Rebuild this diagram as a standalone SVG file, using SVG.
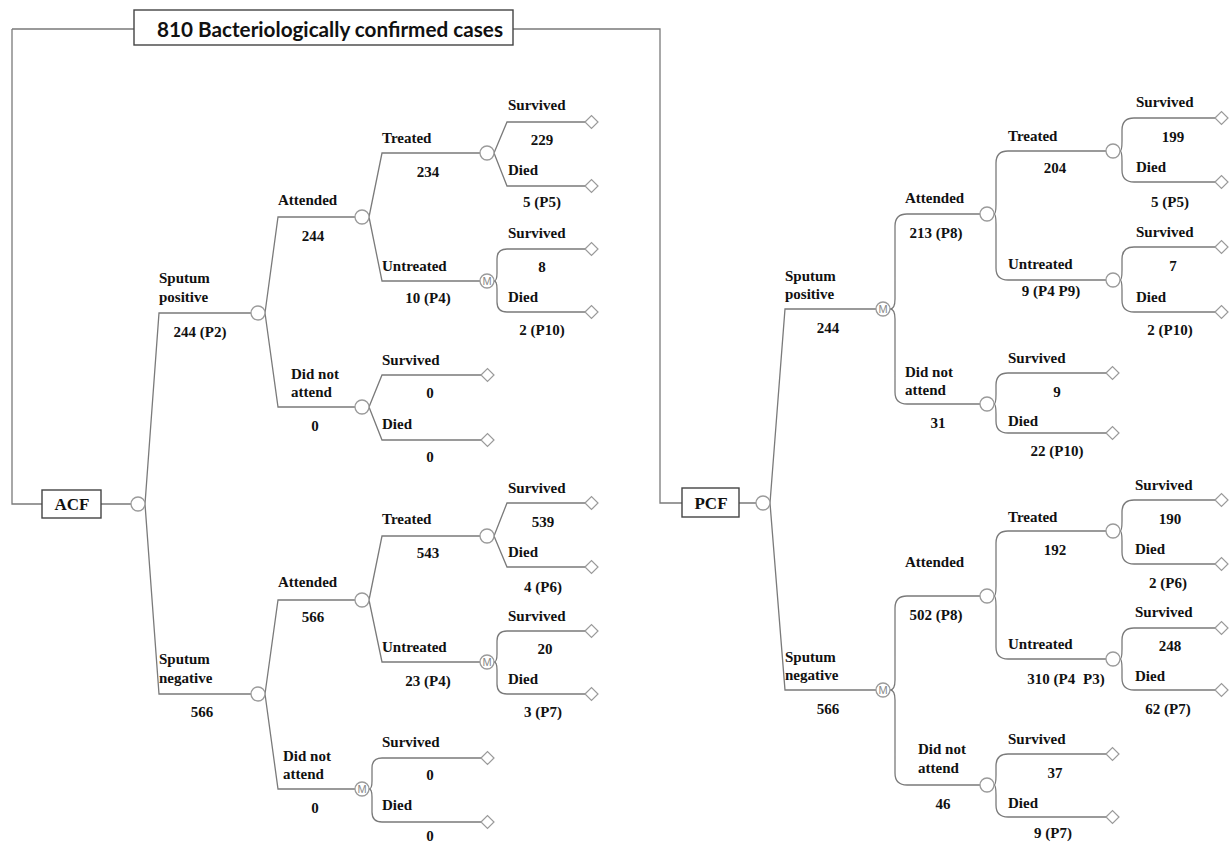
<svg xmlns="http://www.w3.org/2000/svg" xmlns:xlink="http://www.w3.org/1999/xlink" width="1230" height="844" viewBox="0 0 1230 844">
<style>
.ln{fill:none;stroke:#7a7a7a;stroke-width:1.3}
.bx{fill:#fff;stroke:#444;stroke-width:1.4}
.c{fill:#fff;stroke:#9a9a9a;stroke-width:1.3}
.dm{fill:#fff;stroke:#9a9a9a;stroke-width:1.2}
.t{font-family:"Liberation Serif","Times New Roman",serif;font-weight:bold;font-size:15px;fill:#111}
.m{text-anchor:middle}
.mk{font-family:"Liberation Sans",Arial,sans-serif;font-size:11px;fill:#888;text-anchor:middle}
.ttl{font-family:Lato,"Liberation Sans",sans-serif;font-weight:bold;font-size:21px;fill:#111}
.bt{font-family:"Liberation Serif","Times New Roman",serif;font-weight:bold;font-size:17px;fill:#111;text-anchor:middle}
</style>
<defs>
<path id="dmd" class="dm" d="M0,0 L6.5,-6.5 L13,0 L6.5,6.5Z"/>
</defs>
<rect width="1230" height="844" fill="#fff"/>
<g id="connectors">
<path class="ln" d="M12,29 H134 M513,29 H660 V503 H682 M12,29 V504 H42 M101,504 H131 M739,503 H756"/>
<path class="ln" d="M145,504 L159,313 H251 M145,504 L159,694 H251 M265,313 L278,217 H355 M265,313 L278,407 H355 M369,217 L382,153 H480 M369,217 L382,281 H480 M494,153 L507,122 H585 M494,153 L507,186 H585 M494,281 Q497,281 497,273 V259 Q497,249 507,249 H585 M494,281 Q497,281 497,289 V302 Q497,312 507,312 H585 M369,407 L382,375 H481 M369,407 L382,440 H481"/>
<path class="ln" d="M265,694 L278,600 H355 M265,694 L278,789 H355 M369,600 L382,536 H480 M369,600 L382,662 H480 M494,536 L507,503 H585 M494,536 L507,567 H585 M494,662 Q497,662 497,654 V641 Q497,631 507,631 H585 M494,662 Q497,662 497,670 V684 Q497,694 507,694 H585 M369,789 Q372,789 372,781 V768 Q372,758 382,758 H481 M369,789 Q372,789 372,797 V812 Q372,822 382,822 H481"/>
<path class="ln" d="M770,503 L785,309 H876 M770,503 L785,690 H876 M890,309 Q895,309 895,299 V226 Q895,214 907,214 H980 M890,309 Q895,309 895,319 V392 Q895,404 907,404 H980 M994,214 Q996,214 996,204 V163 Q996,151 1008,151 H1106 M994,214 Q996,214 996,224 V268 Q996,280 1008,280 H1106 M1120,151 Q1122,151 1122,141 V130 Q1122,118 1134,118 H1215 M1120,151 Q1122,151 1122,161 V170 Q1122,182 1134,182 H1215 M1120,280 Q1122,280 1122,270 V259 Q1122,247 1134,247 H1215 M1120,280 Q1122,280 1122,290 V300 Q1122,312 1134,312 H1215 M994,404 Q996,404 996,394 V385 Q996,373 1008,373 H1106 M994,404 Q996,404 996,414 V421 Q996,433 1008,433 H1106"/>
<path class="ln" d="M890,690 Q895,690 895,680 V608 Q895,596 907,596 H980 M890,690 Q895,690 895,700 V773 Q895,785 907,785 H980 M994,596 Q996,596 996,586 V543 Q996,531 1008,531 H1106 M994,596 Q996,596 996,606 V647 Q996,659 1008,659 H1106 M1120,531 Q1122,531 1122,521 V512 Q1122,500 1134,500 H1215 M1120,531 Q1122,531 1122,541 V552 Q1122,564 1134,564 H1215 M1120,659 Q1122,659 1122,649 V640 Q1122,628 1134,628 H1215 M1120,659 Q1122,659 1122,669 V678 Q1122,690 1134,690 H1215 M994,785 Q996,785 996,775 V766 Q996,754 1008,754 H1106 M994,785 Q996,785 996,795 V805 Q996,817 1008,817 H1106"/>
</g>
<g id="title"><rect class="bx" x="134" y="10" width="379" height="35"/><text class="ttl" x="157" y="37" textLength="346" lengthAdjust="spacingAndGlyphs">810 Bacteriologically confirmed cases</text></g>
<g id="acf"><rect class="bx" x="42" y="490" width="59" height="28"/><text class="bt" x="72" y="510">ACF</text><circle class="c" cx="138" cy="504" r="7"/></g>
<g id="pcf"><rect class="bx" x="682" y="488" width="57" height="29"/><text class="bt" x="711" y="509">PCF</text><circle class="c" cx="763" cy="503" r="7"/></g>

<g id="acf-sp"><circle class="c" cx="258" cy="313" r="7"/><text class="t" x="159" y="283">Sputum</text><text class="t" x="159" y="302">positive</text><text class="t m" x="200" y="337">244 (P2)</text></g>
<g id="acf-sp-att"><circle class="c" cx="362" cy="217" r="7"/><text class="t" x="278" y="205">Attended</text><text class="t m" x="313" y="241">244</text></g>
<g id="acf-sp-dna"><circle class="c" cx="362" cy="407" r="7"/><text class="t" x="291" y="379">Did not</text><text class="t" x="291" y="397">attend</text><text class="t m" x="315" y="431">0</text></g>
<g id="acf-sp-tr"><circle class="c" cx="487" cy="153" r="7"/><text class="t" x="382" y="143">Treated</text><text class="t m" x="428" y="177">234</text></g>
<g id="acf-sp-ut"><circle class="c" cx="487" cy="281" r="7"/><text class="mk" x="487" y="285">M</text><text class="t" x="382" y="271">Untreated</text><text class="t m" x="428" y="303">10 (P4)</text></g>
<g id="acf-sp-tr-s"><use href="#dmd" x="585" y="122"/><text class="t" x="508" y="110">Survived</text><text class="t m" x="542" y="145">229</text></g>
<g id="acf-sp-tr-d"><use href="#dmd" x="585" y="186"/><text class="t" x="508" y="175">Died</text><text class="t m" x="542" y="207">5 (P5)</text></g>
<g id="acf-sp-ut-s"><use href="#dmd" x="585" y="249"/><text class="t" x="508" y="238">Survived</text><text class="t m" x="542" y="272">8</text></g>
<g id="acf-sp-ut-d"><use href="#dmd" x="585" y="312"/><text class="t" x="508" y="302">Died</text><text class="t m" x="542" y="335">2 (P10)</text></g>
<g id="acf-sp-dna-s"><use href="#dmd" x="481" y="375"/><text class="t" x="382" y="365">Survived</text><text class="t m" x="430" y="398">0</text></g>
<g id="acf-sp-dna-d"><use href="#dmd" x="481" y="440"/><text class="t" x="382" y="429">Died</text><text class="t m" x="430" y="462">0</text></g>

<g id="acf-sn"><circle class="c" cx="258" cy="694" r="7"/><text class="t" x="159" y="664">Sputum</text><text class="t" x="159" y="683">negative</text><text class="t m" x="202" y="717">566</text></g>
<g id="acf-sn-att"><circle class="c" cx="362" cy="600" r="7"/><text class="t" x="278" y="587">Attended</text><text class="t m" x="313" y="622">566</text></g>
<g id="acf-sn-dna"><circle class="c" cx="362" cy="789" r="7"/><text class="mk" x="362" y="793">M</text><text class="t" x="283" y="761">Did not</text><text class="t" x="283" y="779">attend</text><text class="t m" x="315" y="813">0</text></g>
<g id="acf-sn-tr"><circle class="c" cx="487" cy="536" r="7"/><text class="t" x="382" y="524">Treated</text><text class="t m" x="428" y="558">543</text></g>
<g id="acf-sn-ut"><circle class="c" cx="487" cy="662" r="7"/><text class="mk" x="487" y="666">M</text><text class="t" x="382" y="652">Untreated</text><text class="t m" x="428" y="686">23 (P4)</text></g>
<g id="acf-sn-tr-s"><use href="#dmd" x="585" y="503"/><text class="t" x="508" y="493">Survived</text><text class="t m" x="543" y="527">539</text></g>
<g id="acf-sn-tr-d"><use href="#dmd" x="585" y="567"/><text class="t" x="508" y="557">Died</text><text class="t m" x="543" y="592">4 (P6)</text></g>
<g id="acf-sn-ut-s"><use href="#dmd" x="585" y="631"/><text class="t" x="508" y="621">Survived</text><text class="t m" x="545" y="654">20</text></g>
<g id="acf-sn-ut-d"><use href="#dmd" x="585" y="694"/><text class="t" x="508" y="684">Died</text><text class="t m" x="543" y="717">3 (P7)</text></g>
<g id="acf-sn-dna-s"><use href="#dmd" x="481" y="758"/><text class="t" x="382" y="747">Survived</text><text class="t m" x="430" y="780">0</text></g>
<g id="acf-sn-dna-d"><use href="#dmd" x="481" y="822"/><text class="t" x="382" y="810">Died</text><text class="t m" x="430" y="841">0</text></g>

<g id="pcf-sp"><circle class="c" cx="883" cy="309" r="7"/><text class="mk" x="883" y="313">M</text><text class="t" x="785" y="281">Sputum</text><text class="t" x="785" y="299">positive</text><text class="t m" x="828" y="333">244</text></g>
<g id="pcf-sp-att"><circle class="c" cx="987" cy="214" r="7"/><text class="t" x="905" y="203">Attended</text><text class="t m" x="936" y="238">213 (P8)</text></g>
<g id="pcf-sp-dna"><circle class="c" cx="987" cy="404" r="7"/><text class="t" x="905" y="377">Did not</text><text class="t" x="905" y="395">attend</text><text class="t m" x="938" y="428">31</text></g>
<g id="pcf-sp-tr"><circle class="c" cx="1113" cy="151" r="7"/><text class="t" x="1008" y="141">Treated</text><text class="t m" x="1055" y="173">204</text></g>
<g id="pcf-sp-ut"><circle class="c" cx="1113" cy="280" r="7"/><text class="t" x="1008" y="269">Untreated</text><text class="t m" x="1051" y="296">9 (P4 P9)</text></g>
<g id="pcf-sp-tr-s"><use href="#dmd" x="1215" y="118"/><text class="t" x="1136" y="107">Survived</text><text class="t m" x="1173" y="142">199</text></g>
<g id="pcf-sp-tr-d"><use href="#dmd" x="1215" y="182"/><text class="t" x="1136" y="172">Died</text><text class="t m" x="1170" y="207">5 (P5)</text></g>
<g id="pcf-sp-ut-s"><use href="#dmd" x="1215" y="247"/><text class="t" x="1136" y="237">Survived</text><text class="t m" x="1173" y="271">7</text></g>
<g id="pcf-sp-ut-d"><use href="#dmd" x="1215" y="312"/><text class="t" x="1136" y="302">Died</text><text class="t m" x="1170" y="335">2 (P10)</text></g>
<g id="pcf-sp-dna-s"><use href="#dmd" x="1106" y="373"/><text class="t" x="1008" y="363">Survived</text><text class="t m" x="1057" y="397">9</text></g>
<g id="pcf-sp-dna-d"><use href="#dmd" x="1106" y="433"/><text class="t" x="1008" y="426">Died</text><text class="t m" x="1057" y="456">22 (P10)</text></g>

<g id="pcf-sn"><circle class="c" cx="883" cy="690" r="7"/><text class="mk" x="883" y="694">M</text><text class="t" x="785" y="662">Sputum</text><text class="t" x="785" y="680">negative</text><text class="t m" x="828" y="714">566</text></g>
<g id="pcf-sn-att"><circle class="c" cx="987" cy="596" r="7"/><text class="t" x="905" y="567">Attended</text><text class="t m" x="936" y="620">502 (P8)</text></g>
<g id="pcf-sn-dna"><circle class="c" cx="987" cy="785" r="7"/><text class="t" x="918" y="754">Did not</text><text class="t" x="918" y="773">attend</text><text class="t m" x="943" y="809">46</text></g>
<g id="pcf-sn-tr"><circle class="c" cx="1113" cy="531" r="7"/><text class="t" x="1008" y="522">Treated</text><text class="t m" x="1055" y="555">192</text></g>
<g id="pcf-sn-ut"><circle class="c" cx="1113" cy="659" r="7"/><text class="t" x="1008" y="649">Untreated</text><text class="t m" x="1066" y="684">310 (P4<tspan dx="4"> P3)</tspan></text></g>
<g id="pcf-sn-tr-s"><use href="#dmd" x="1215" y="500"/><text class="t" x="1135" y="490">Survived</text><text class="t m" x="1170" y="524">190</text></g>
<g id="pcf-sn-tr-d"><use href="#dmd" x="1215" y="564"/><text class="t" x="1135" y="554">Died</text><text class="t m" x="1168" y="588">2 (P6)</text></g>
<g id="pcf-sn-ut-s"><use href="#dmd" x="1215" y="628"/><text class="t" x="1135" y="617">Survived</text><text class="t m" x="1170" y="651">248</text></g>
<g id="pcf-sn-ut-d"><use href="#dmd" x="1215" y="690"/><text class="t" x="1135" y="681">Died</text><text class="t m" x="1168" y="714">62 (P7)</text></g>
<g id="pcf-sn-dna-s"><use href="#dmd" x="1106" y="754"/><text class="t" x="1008" y="744">Survived</text><text class="t m" x="1055" y="778">37</text></g>
<g id="pcf-sn-dna-d"><use href="#dmd" x="1106" y="817"/><text class="t" x="1008" y="808">Died</text><text class="t m" x="1053" y="838">9 (P7)</text></g>
</svg>
